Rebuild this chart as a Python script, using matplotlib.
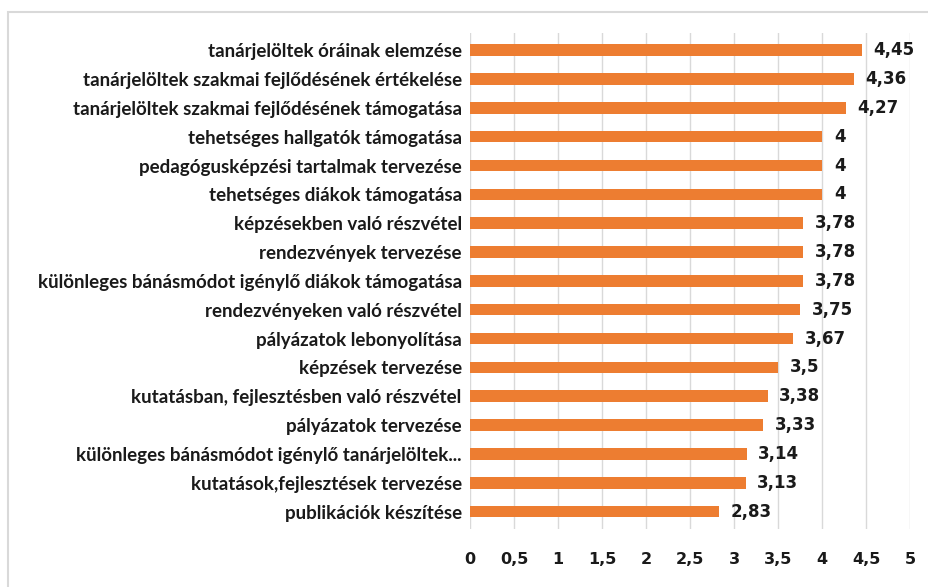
import matplotlib
matplotlib.use("Agg")
import matplotlib.pyplot as plt
from matplotlib.patches import Rectangle

categories = [
    "tanárjelöltek óráinak elemzése",
    "tanárjelöltek szakmai fejlődésének értékelése",
    "tanárjelöltek szakmai fejlődésének támogatása",
    "tehetséges hallgatók támogatása",
    "pedagógusképzési tartalmak tervezése",
    "tehetséges diákok támogatása",
    "képzésekben való részvétel",
    "rendezvények tervezése",
    "különleges bánásmódot igénylő diákok támogatása",
    "rendezvényeken való részvétel",
    "pályázatok lebonyolítása",
    "képzések tervezése",
    "kutatásban, fejlesztésben való részvétel",
    "pályázatok tervezése",
    "különleges bánásmódot igénylő tanárjelöltek...",
    "kutatások,fejlesztések tervezése",
    "publikációk készítése",
]
values = [4.45, 4.36, 4.27, 4.0, 4.0, 4.0, 3.78, 3.78, 3.78, 3.75, 3.67, 3.5, 3.38, 3.33, 3.14, 3.13, 2.83]
value_labels = ["4,45", "4,36", "4,27", "4", "4", "4", "3,78", "3,78", "3,78", "3,75", "3,67",
                "3,5", "3,38", "3,33", "3,14", "3,13", "2,83"]
xticks = [0, 0.5, 1, 1.5, 2, 2.5, 3, 3.5, 4, 4.5, 5]
xtick_labels = ["0", "0,5", "1", "1,5", "2", "2,5", "3", "3,5", "4", "4,5", "5"]

plt.rcParams['font.family'] = ['Lato', 'DejaVu Sans']
num_font = ['DejaVu Sans']

fig = plt.figure(figsize=(9.29, 5.87), dpi=100)
ax = fig.add_axes([0.506, 0.099, 0.474, 0.845])

pos = list(range(len(categories)))[::-1]
ax.barh(pos, values, height=0.4, color="#ED7D31", zorder=3)
for p, v, lab in zip(pos, values, value_labels):
    ax.text(v + 0.13, p, lab, va="center", ha="left", fontsize=12, fontweight="bold",
            color="#1a1a1a", family=num_font)

ax.set_xlim(0, 5)
ax.set_ylim(-0.6, len(categories) - 0.4)
ax.set_xticks(xticks)
ax.set_xticklabels(xtick_labels, fontsize=11.5, fontweight="bold", color="#1a1a1a", family=num_font)
ax.set_yticks(pos)
ax.set_yticklabels(categories, fontsize=13.5, fontweight="bold", color="#1a1a1a")
ax.tick_params(length=0)
ax.tick_params(axis="x", pad=17)
ax.tick_params(axis="y", pad=6)
ax.grid(axis="x", color="#d9d9d9", linewidth=1, zorder=0)
for s in ax.spines.values():
    s.set_visible(False)

fig.patches.append(Rectangle((0.009, -0.05), 1.05, 1.03, transform=fig.transFigure,
                             fill=False, edgecolor="#d9d9d9", linewidth=1.5))

fig.savefig("out.png", dpi=100)
